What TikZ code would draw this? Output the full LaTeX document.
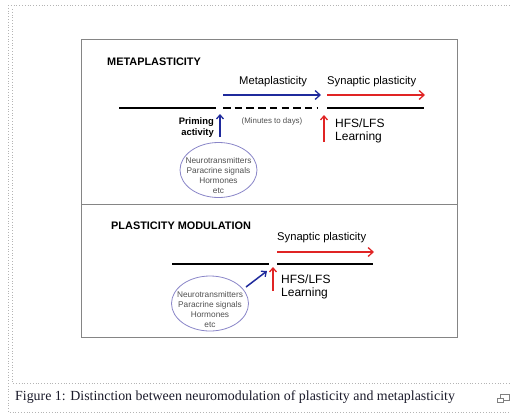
\documentclass[tikz,border=0pt]{standalone}
\usepackage{fontspec}
\setmainfont{Liberation Serif}
\setsansfont{Liberation Sans}
\usetikzlibrary{arrows.meta,shapes.geometric}
\definecolor{framegray}{HTML}{B4B4B4}
\definecolor{boxgray}{HTML}{858585}
\definecolor{arrblue}{HTML}{1F2A9C}
\definecolor{arrred}{HTML}{E02424}
\definecolor{ellcol}{HTML}{8A86C8}
\definecolor{elltext}{HTML}{505050}
\definecolor{captext}{HTML}{1A1A2A}
\begin{document}
\begin{tikzpicture}[x=1pt,y=-1pt,
  baseline line/.style={line width=1.6pt,black},
  harrow/.style={line width=1.5pt,-{Straight Barb[length=5pt,width=9pt,line width=1.3pt]}},
  varrow/.style={line width=1.5pt,-{Straight Barb[length=4pt,width=7pt,line width=1.3pt]}},
  title/.style={font=\sffamily\bfseries\fontsize{10.9}{12}\selectfont,anchor=west,inner sep=0pt},
  label/.style={font=\sffamily\fontsize{11.2}{13}\selectfont,anchor=west,inner sep=0pt},
  hfslabel/.style={font=\sffamily\fontsize{12}{13}\selectfont,anchor=west,align=left,inner sep=0pt},
  bold label/.style={font=\sffamily\bfseries\fontsize{9.4}{11}\selectfont,align=right,inner sep=0pt},
  ellbox/.style={ellipse,draw=ellcol,line width=0.8pt,minimum width=77pt,minimum height=55pt,inner sep=0pt},
  elltxt/.style={font=\sffamily\fontsize{8.3}{10}\selectfont,text=elltext,align=center,inner sep=0pt},
  dotframe/.style={draw=framegray,dotted,line width=0.8pt}]
\useasboundingbox (0,0) rectangle (511,416);
% outer dotted frames
\draw[dotframe] (8,5) -- (511,5);
\draw[dotframe] (8,5) -- (8,412) -- (511,412);
\draw[dotframe] (12,9) -- (12,383) -- (511,383);
% diagram box
\draw[boxgray,line width=1pt] (81,39) rectangle (457,337);
\draw[boxgray,line width=1pt] (81,204) -- (457,204);

% ---- METAPLASTICITY panel
\node[title] (t1) at (107,62) {METAPLASTICITY};
\coordinate (l1a) at (119,108); \coordinate (l1b) at (216,108);
\coordinate (d1a) at (223,108); \coordinate (d1b) at (317,108);
\coordinate (s1a) at (327,108); \coordinate (s1b) at (424,108);
\draw[baseline line] (l1a) -- (l1b);
\draw[baseline line,dash pattern=on 7.5pt off 4.2pt] (d1a) -- (d1b);
\draw[baseline line] (s1a) -- (s1b);
\coordinate (ba1) at (223,95); \coordinate (bb1) at (321,95);
\coordinate (ra1) at (327,95); \coordinate (rb1) at (425,95);
\draw[harrow,arrblue] (ba1) -- (bb1);
\draw[harrow,arrred] (ra1) -- (rb1);
\node[label] (meta) at (239,82) {Metaplasticity};
\node[label] (syn1) at (327,82) {Synaptic plasticity};
\node[bold label,anchor=east] (prim) at (214,127.5) {Priming\\activity};
\node[font=\sffamily\fontsize{7.9}{9}\selectfont,text=elltext,inner sep=0pt] (mins) at (272,121) {(Minutes to days)};
\node[hfslabel] (hfs1) at (335,130.5) {HFS/LFS\\Learning};
\node[ellbox] (e1) at (218.5,170) {};
\node[elltxt] (et1) at (218.5,175.5) {Neurotransmitters\\Paracrine signals\\Hormones\\etc};
\coordinate (bu1s) at (220,137); \coordinate (bu1e) at (220,114);
\draw[varrow,arrblue] (bu1s) -- (bu1e);
\coordinate (ru1s) at (324,142); \coordinate (ru1e) at (324,115);
\draw[varrow,arrred] (ru1s) -- (ru1e);

% ---- PLASTICITY MODULATION panel
\node[title] (t2) at (111,226) {PLASTICITY MODULATION};
\coordinate (l2a) at (172,264); \coordinate (l2b) at (269,264);
\coordinate (s2a) at (277,264); \coordinate (s2b) at (373,264);
\draw[baseline line] (l2a) -- (l2b);
\draw[baseline line] (s2a) -- (s2b);
\coordinate (ra2) at (277,252); \coordinate (rb2) at (374,252);
\draw[harrow,arrred] (ra2) -- (rb2);
\node[label] (syn2) at (277,238) {Synaptic plasticity};
\node[hfslabel] (hfs2) at (281,287) {HFS/LFS\\Learning};
\node[ellbox] (e2) at (210,303.5) {};
\node[elltxt] (et2) at (210,309.5) {Neurotransmitters\\Paracrine signals\\Hormones\\etc};
\coordinate (bd2s) at (246,287); \coordinate (bd2e) at (267,271);
\draw[varrow,arrblue] (bd2s) -- (bd2e);
\coordinate (ru2s) at (273,291); \coordinate (ru2e) at (273,267);
\draw[varrow,arrred] (ru2s) -- (ru2e);

% ---- caption
\node[anchor=west,inner sep=0pt,text=captext,font=\rmfamily\fontsize{13.9}{15}\selectfont] (cap) at (15,397) {Figure 1: Distinction between neuromodulation of plasticity and metaplasticity};
% expand icon
\draw[gray,line width=0.7pt] (500,394.5) rectangle (509.5,400.5);
\draw[gray,line width=0.7pt,fill=white] (497,398.5) rectangle (503.5,402.5);
\end{tikzpicture}
\end{document}
